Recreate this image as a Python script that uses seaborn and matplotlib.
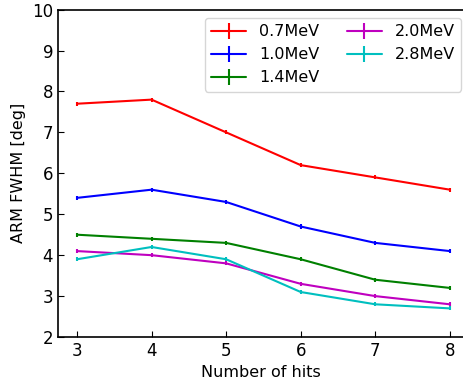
import matplotlib
matplotlib.use("Agg")
import matplotlib.pyplot as plt
import seaborn as sns
import numpy as np

hits = [3, 4, 5, 6, 7, 8]
labels = ["0.7MeV", "1.0MeV", "1.4MeV", "2.0MeV", "2.8MeV"]
colors = ["red", "blue", "green", "m", "c"]
arm_07 = [7.7, 7.8, 7.0, 6.2, 5.9, 5.6]
arm_10 = [5.4, 5.6, 5.3, 4.7, 4.3, 4.1]
arm_14 = [4.5, 4.4, 4.3, 3.9, 3.4, 3.2]
arm_20 = [4.1, 4.0, 3.8, 3.3, 3.0, 2.8]
arm_28 = [3.9, 4.2, 3.9, 3.1, 2.8, 2.7]
err = 0.05

sns.set_style("ticks", {"text.color": "black", "axes.labelcolor": "black",
                        "xtick.color": "black", "ytick.color": "black",
                        "axes.edgecolor": "black"})
plt.rcParams['font.family'] = ['DejaVu Sans']

fig = plt.figure(figsize=(4.64, 3.83), dpi=100)
ax = fig.add_axes([0.125, 0.12, 0.875, 0.855])
for vals, lab, c in zip([arm_07, arm_10, arm_14, arm_20, arm_28], labels, colors):
    ax.errorbar(hits, vals, yerr=err, color=c, label=lab, lw=1.5, elinewidth=1.5)

ax.set_xlim(2.745, 8.19)
ax.set_ylim(2, 10)
ax.set_xticks(hits)
ax.set_yticks(range(2, 11))
ax.tick_params(direction="in", labelsize=12, length=4)
ax.set_xlabel("Number of hits", fontsize=11.5)
ax.set_ylabel("ARM FWHM [deg]", fontsize=11.5)
for s in ax.spines.values():
    s.set_linewidth(1.2)
ax.spines["right"].set_visible(False)
ax.legend(ncol=2, fontsize=11.5, loc="upper right", handlelength=2.2, columnspacing=1.7,
          bbox_to_anchor=(0.993, 0.975), borderaxespad=0)
fig.savefig("out.png", dpi=100)
